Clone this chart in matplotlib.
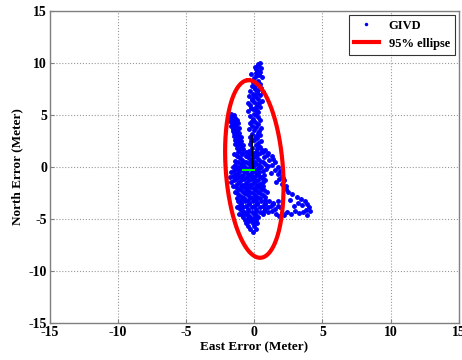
import numpy as np
import matplotlib
matplotlib.use("Agg")
import matplotlib.pyplot as plt

plt.rcParams['font.family'] = ['Liberation Serif', 'DejaVu Serif']
plt.rcParams['font.weight'] = 'bold'
plt.rcParams['axes.unicode_minus'] = False

# ---- data ----
top_e = [0.45, 0.3, 0.5, 0.2, 0.4, 0.1, 0.35, 0.55, 0.0, 0.25, -0.1, 0.4, 0.15, -0.2, 0.5, 0.05, 0.3, -0.3, 0.2, -0.1,
         0.45, -0.4, 0.1, 0.3, -0.2, 0.55, 0.0, -0.5, 0.2, -0.3, 0.4, -0.1, 0.1, -0.45, 0.3, 0.6, -0.25, 0.05,
         0.3, 0.15, 0.35, 0.1, 0.25, -0.05, 0.2, 0.0, -0.15, 0.35, 0.1, -0.25, 0.2]
top_n = [10.0, 9.7, 9.5, 9.3, 9.1, 9.0, 8.8, 8.6, 8.5, 8.3, 8.2, 8.0, 7.9, 7.8, 7.6, 7.5, 7.4, 7.3, 7.1, 7.0,
         6.9, 6.8, 6.7, 6.5, 6.4, 6.3, 6.2, 6.1, 6.0, 5.9, 5.8, 5.6, 5.5, 5.4, 5.3, 7.2, 8.9, 9.6,
         9.85, 9.45, 8.95, 8.7, 8.15, 7.65, 7.25, 6.85, 6.55, 6.15, 5.75, 5.65, 5.35]

mid_e = [0.0, -0.3, 0.25, -0.1, 0.4, 0.05, -0.35, 0.3, -0.15, 0.15, 0.5, -0.4, 0.0, 0.3, -0.2, 0.45, 0.1, -0.35,
         0.2, -0.05, 0.5, 0.3, -0.3, 0.1, 0.4, -0.2, 0.2, 0.55, -0.4, 0.15, -0.2, 0.35, 0.05, -0.25, 0.3]
mid_n = [5.1, 4.9, 4.8, 4.6, 4.5, 4.3, 4.2, 4.1, 3.9, 3.8, 3.7, 3.6, 3.5, 3.3, 3.2, 3.1, 3.0, 2.9,
         2.8, 2.6, 2.5, 2.3, 2.2, 2.1, 1.9, 1.8, 1.7, 1.6, 1.5, 4.95, 4.4, 3.45, 2.75, 2.45, 2.05]

left_e = [-1.7, -1.5, -1.8, -1.4, -1.6, -1.3, -1.75, -1.5, -1.2, -1.6, -1.35, -1.7, -1.45, -1.15, -1.55, -1.3, -1.6,
          -1.1, -1.4, -1.25, -1.5, -1.0, -1.35, -1.15, -1.45, -0.95, -1.25, -1.05, -1.4, -0.85, -1.2, -1.0, -1.3, -0.8, -1.1,
          -1.55, -1.65, -1.4, -1.5, -1.25, -1.3, -1.15, -1.1]
left_n = [5.1, 5.0, 4.8, 4.7, 4.6, 4.5, 4.4, 4.3, 4.2, 4.1, 4.0, 3.9, 3.8, 3.7, 3.6, 3.5, 3.4,
          3.3, 3.2, 3.1, 3.0, 2.9, 2.8, 2.7, 2.6, 2.5, 2.4, 2.3, 2.2, 2.1, 2.0, 1.9, 1.8, 1.7, 1.6,
          4.85, 4.25, 3.95, 3.25, 3.35, 2.55, 2.85, 1.95]

core_e = [-1.2, -0.6, 0.1, 0.6, -1.5, -0.9, -0.3, 0.3, -1.1, -0.5, 0.0, 0.7, -1.4, -0.8, -0.2, 0.4,
          -1.0, -0.4, 0.15, 0.8, -1.6, -1.2, -0.7, -0.1, 0.5, -1.3, -0.9, -0.45, 0.2, 0.85,
          -1.7, -1.1, -0.6, -0.15, 0.35, -1.4, -0.85, -0.3, 0.1, 0.7, -1.8, -1.2, -0.55, 0.0, 0.5,
          -1.5, -0.95, -0.4, 0.25, 0.8, -1.3, -0.7, -0.15, 0.4, -1.6, -1.0, -0.45, 0.1, 0.65,
          -1.2, -0.6, -0.05, 0.5, -1.45, -0.85, -0.3, 0.3, 0.9, -1.1, -0.5, 0.05, 0.6, -1.3, -0.75, -0.2, 0.4,
          -0.35, -0.75, 0.0, -0.25, -0.65, 0.15, -0.5, -0.1,
          -0.9, -0.1, 0.45, -1.3, -0.6, 0.15, -0.95, -0.35, 0.25, -1.2, -0.6, 0.05, 0.6,
          -1.4, -0.8, -0.25, 0.35, -1.45, -1.05, -0.3, 0.35, -1.5, -0.75, 0.05, 0.6,
          -1.25, -0.45, 0.25, -1.55, -1.0, -0.15, 0.35, -1.35, -0.75, -0.2, 0.6,
          -1.7, -1.1, -0.55, 0.05, 0.6, -0.9, -0.3, 0.25, -1.35, -0.75, 0.35,
          -1.0, -0.45, 0.15, 0.7, -1.3, -0.7, -0.1, 0.45, -0.9, -0.35, 0.2, 0.8, -1.0, -0.45, 0.1, 0.75]
core_n = [1.4, 1.4, 1.4, 1.4, 1.2, 1.2, 1.2, 1.2, 0.9, 0.9, 0.9, 0.9, 0.6, 0.6, 0.6, 0.6,
          0.3, 0.3, 0.3, 0.3, 0.0, 0.0, 0.0, 0.0, 0.0, -0.2, -0.2, -0.2, -0.2, -0.2,
          -0.5, -0.5, -0.5, -0.5, -0.5, -0.8, -0.8, -0.8, -0.8, -0.8, -1.0, -1.0, -1.0, -1.0, -1.0,
          -1.3, -1.3, -1.3, -1.3, -1.3, -1.6, -1.6, -1.6, -1.6, -1.8, -1.8, -1.8, -1.8, -1.8,
          -2.1, -2.1, -2.1, -2.1, -2.4, -2.4, -2.4, -2.4, -2.4, -2.7, -2.7, -2.7, -2.7, -3.0, -3.0, -3.0, -3.0,
          0.45, -0.35, -1.15, -1.95, -2.55, -2.85, 1.05, 0.15,
          1.3, 1.3, 1.3, 1.05, 1.05, 1.05, 0.75, 0.75, 0.75, 0.45, 0.45, 0.45, 0.45,
          0.15, 0.15, 0.15, 0.15, -0.1, -0.1, -0.1, -0.1, -0.35, -0.35, -0.35, -0.35,
          -0.65, -0.65, -0.65, -0.9, -0.9, -0.9, -0.9, -1.15, -1.15, -1.15, -1.15,
          -1.45, -1.45, -1.45, -1.45, -1.45, -1.7, -1.7, -1.7, -1.95, -1.95, -1.95,
          -2.25, -2.25, -2.25, -2.25, -2.55, -2.55, -2.55, -2.55, -2.85, -2.85, -2.85, -2.85, -3.15, -3.15, -3.15, -3.15]

ring_e = [0.8, 1.0, 1.3, 1.1, 1.5, 1.3, 1.7, 1.5, 1.9, 1.7, 2.0, 1.8, 2.2, 2.0, 2.3, 1.6, 1.2, 1.0, 0.9, 1.4, 2.1]
ring_n = [1.6, 1.3, 1.0, 0.7, 0.5, 0.2, 0.0, -0.3, -0.4, -0.7, -0.9, -1.2, -1.3, -1.6, -1.8, -1.5, -0.6, 0.1, 1.1, 0.75, -1.05]

tail_e = [2.3, 2.5, 2.8, 3.1, 3.4, 3.7, 3.9, 4.0, 3.8, 3.6, 3.3, 3.0, 2.7, 2.4, 2.2, 3.5, 3.2, 2.9, 4.1, 3.9, 2.0, 1.8, 2.6]
tail_n = [-2.1, -2.4, -2.6, -2.9, -3.1, -3.3, -3.6, -3.9, -4.1, -4.3, -4.4, -4.2, -4.5, -4.3, -4.6, -3.7, -3.5, -3.8, -4.2, -4.6, -4.4, -4.7, -3.2]

low_e = [-1.2, -0.7, -0.1, 0.5, 1.1, 1.7, -1.0, -0.4, 0.2, 0.8, 1.4, -1.3, -0.8, -0.2, 0.4, 1.0, 1.9,
         -0.9, -0.5, 0.1, 0.7, 1.3, -1.1, -0.6, 0.0, 0.6, 1.6, -0.8, -0.3, 0.3, -0.7, -0.2, 0.15,
         -0.6, -0.1, 0.2, -0.45, 0.0, -0.3, 0.1, -0.1,
         -0.95, -0.4, 0.2, 0.8, 1.35, -1.15, -0.6, 0.0, 0.6, 1.2, 1.7, -1.05, -0.5, 0.15, 0.75, 1.5,
         -0.75, -0.2, 0.4, 1.0, -0.9, -0.45, 0.15, -0.5, 0.0, -0.4, 0.05]
low_n = [-3.3, -3.3, -3.3, -3.3, -3.3, -3.3, -3.6, -3.6, -3.6, -3.6, -3.6, -3.9, -3.9, -3.9, -3.9, -3.9, -3.9,
         -4.2, -4.2, -4.2, -4.2, -4.2, -4.5, -4.5, -4.5, -4.5, -4.5, -4.8, -4.8, -4.8, -5.1, -5.1, -5.1,
         -5.4, -5.4, -5.4, -5.7, -5.7, -6.0, -6.0, -6.3,
         -3.45, -3.45, -3.45, -3.45, -3.45, -3.75, -3.75, -3.75, -3.75, -3.75, -3.75, -4.05, -4.05, -4.05, -4.05, -4.05,
         -4.35, -4.35, -4.35, -4.35, -4.65, -4.65, -4.65, -4.95, -4.95, -5.25, -5.25]

east = top_e + mid_e + left_e + core_e + ring_e + tail_e + low_e
north = top_n + mid_n + left_n + core_n + ring_n + tail_n + low_n

# 95% ellipse parameters
ell_center = (0.0, -0.2)
ell_semi_major = 8.55
ell_semi_minor = 2.1
ell_angle_deg = 93.0

# principal axis markers
green_e = [-0.85, 0.0]
green_n = [-0.3, -0.3]
black_e = [-0.1, -0.2]
black_n = [-0.3, 3.0]

# ---- plot ----
fig = plt.figure(figsize=(4.62, 3.6), dpi=100)
ax = fig.add_axes([0.108, 0.103, 0.885, 0.867])

ax.plot(east, north, '.', color='#0000ff', markersize=5, label='GIVD', zorder=3)

t = np.linspace(0, 2 * np.pi, 300)
th = np.deg2rad(ell_angle_deg)
ex = ell_semi_major * np.cos(t)
ey = ell_semi_minor * np.sin(t)
xe = ell_center[0] + ex * np.cos(th) - ey * np.sin(th)
ye = ell_center[1] + ex * np.sin(th) + ey * np.cos(th)
ax.plot(xe, ye, '-', color='#ff0000', linewidth=3, label='95% ellipse', zorder=4)

ax.plot(black_e, black_n, '-', color='black', linewidth=1.5, zorder=5)
ax.plot(green_e, green_n, '-', color='#00ff00', linewidth=1.5, zorder=5)

ax.set_xlim(-15, 15)
ax.set_ylim(-15, 15)
ax.set_xticks([-15, -10, -5, 0, 5, 10, 15])
ax.set_yticks([-15, -10, -5, 0, 5, 10, 15])
ax.grid(True, linestyle=':', color='#999999', linewidth=0.8)
for s in ax.spines.values():
    s.set_color('#808080')
    s.set_linewidth(1.0)
ax.tick_params(direction='in', length=3, color='#808080', labelsize=10, pad=2)
for lab in ax.get_xticklabels() + ax.get_yticklabels():
    lab.set_fontweight('bold')
ax.set_xlabel('East Error (Meter)', fontsize=9.5, fontweight='bold', labelpad=2)
ax.set_ylabel('North Error (Meter)', fontsize=9.5, fontweight='bold', labelpad=4)

leg = ax.legend(loc='upper right', frameon=True, fancybox=False,
                edgecolor='black', borderaxespad=0.3, handlelength=2.0,
                markerscale=0.6, prop={'weight': 'bold', 'size': 9})
leg.get_frame().set_linewidth(0.8)

fig.savefig('out.png', dpi=100)
